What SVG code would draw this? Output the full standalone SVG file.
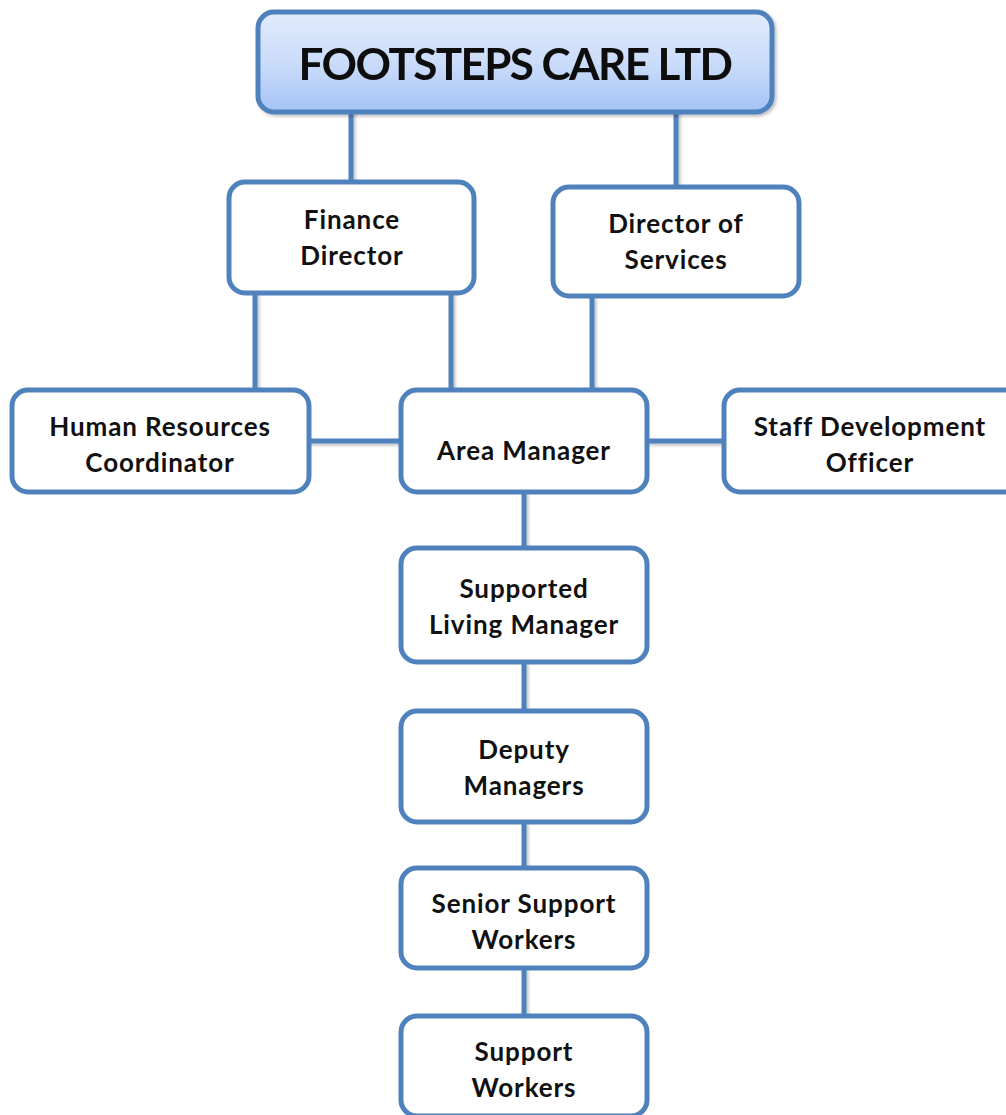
<svg xmlns="http://www.w3.org/2000/svg" width="1006" height="1115" viewBox="0 0 1006 1115">
  <defs>
    <linearGradient id="topFill" x1="0" y1="0" x2="0" y2="1">
      <stop offset="0" stop-color="#e1ebfc"/>
      <stop offset="0.5" stop-color="#cbdcfa"/>
      <stop offset="1" stop-color="#a5c3f6"/>
    </linearGradient>
    <filter id="shadow" x="-10%" y="-10%" width="130%" height="130%">
      <feDropShadow dx="2" dy="2" stdDeviation="1.5" flood-color="#000" flood-opacity="0.25"/>
    </filter>
  </defs>
  <style>
    .box { fill: #ffffff; stroke: #4f81bd; stroke-width: 5; }
    .top { fill: url(#topFill); stroke: #4f81bd; stroke-width: 5; }
    .link { stroke: #4f81bd; stroke-width: 5; fill: none; }
    text { font-family: Lato, "Open Sans", "Liberation Sans", sans-serif; font-weight: bold; fill: #111; text-anchor: middle; }
    .lbl { font-size: 26px; letter-spacing: 0.9px; }
    .title { font-size: 44px; letter-spacing: -1.6px; }
  </style>
  <rect width="1006" height="1115" fill="#ffffff"/>

  <!-- connectors -->
  <g id="connectors" filter="url(#shadow)">
    <line class="link" x1="351" y1="112" x2="351" y2="182"/>
    <line class="link" x1="676" y1="112" x2="676" y2="187"/>
    <line class="link" x1="255" y1="293" x2="255" y2="390"/>
    <line class="link" x1="451" y1="293" x2="451" y2="390"/>
    <line class="link" x1="592" y1="296" x2="592" y2="390"/>
    <line class="link" x1="309" y1="441" x2="401" y2="441"/>
    <line class="link" x1="647" y1="441" x2="724" y2="441"/>
    <line class="link" x1="524" y1="492" x2="524" y2="548"/>
    <line class="link" x1="524" y1="662" x2="524" y2="711"/>
    <line class="link" x1="524" y1="822" x2="524" y2="868"/>
    <line class="link" x1="524" y1="968" x2="524" y2="1016"/>
  </g>

  <g id="footsteps-care" filter="url(#shadow)">
    <rect class="top" x="258" y="12" width="514" height="100" rx="16"/>
    <text class="title" x="515" y="80">FOOTSTEPS CARE LTD</text>
  </g>

  <g id="finance-director">
    <rect class="box" x="229" y="182" width="245" height="111" rx="16"/>
    <text class="lbl" x="352" y="229">Finance</text>
    <text class="lbl" x="352" y="265">Director</text>
  </g>

  <g id="director-of-services">
    <rect class="box" x="553" y="187" width="246" height="109" rx="16"/>
    <text class="lbl" x="676" y="233">Director of</text>
    <text class="lbl" x="676" y="269">Services</text>
  </g>

  <g id="hr-coordinator">
    <rect class="box" x="12" y="390" width="297" height="102" rx="16"/>
    <text class="lbl" x="160" y="436">Human Resources</text>
    <text class="lbl" x="160" y="472">Coordinator</text>
  </g>

  <g id="area-manager">
    <rect class="box" x="401" y="390" width="246" height="102" rx="16"/>
    <text class="lbl" x="524" y="460">Area Manager</text>
  </g>

  <g id="staff-development-officer">
    <rect class="box" x="724" y="390" width="300" height="102" rx="16"/>
    <text class="lbl" x="870" y="436">Staff Development</text>
    <text class="lbl" x="870" y="472">Officer</text>
  </g>

  <g id="supported-living-manager">
    <rect class="box" x="401" y="548" width="246" height="114" rx="16"/>
    <text class="lbl" x="524" y="598">Supported</text>
    <text class="lbl" x="524" y="634">Living Manager</text>
  </g>

  <g id="deputy-managers">
    <rect class="box" x="401" y="711" width="246" height="111" rx="16"/>
    <text class="lbl" x="524" y="759">Deputy</text>
    <text class="lbl" x="524" y="795">Managers</text>
  </g>

  <g id="senior-support-workers">
    <rect class="box" x="401" y="868" width="246" height="100" rx="16"/>
    <text class="lbl" x="524" y="913">Senior Support</text>
    <text class="lbl" x="524" y="949">Workers</text>
  </g>

  <g id="support-workers">
    <rect class="box" x="401" y="1016" width="246" height="100" rx="16"/>
    <text class="lbl" x="524" y="1061">Support</text>
    <text class="lbl" x="524" y="1097">Workers</text>
  </g>
</svg>
